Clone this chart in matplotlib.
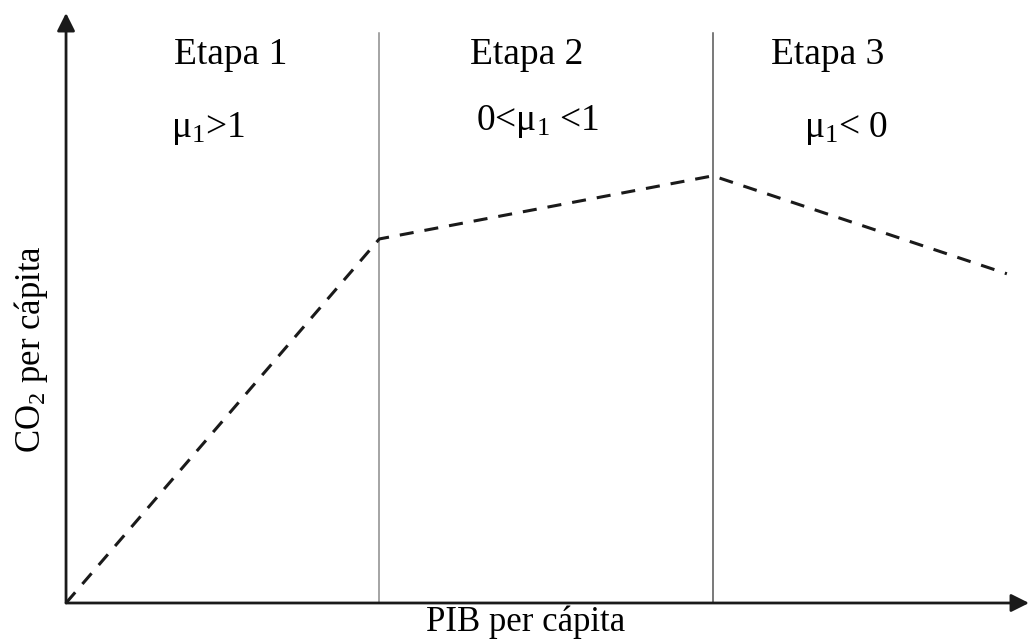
import numpy as np
import matplotlib
matplotlib.use('Agg')
import matplotlib.pyplot as plt

plt.rcParams['font.family'] = ['Liberation Serif', 'DejaVu Serif']
plt.rcParams['mathtext.fontset'] = 'custom'
plt.rcParams['mathtext.rm'] = 'Liberation Serif'
plt.rcParams['mathtext.it'] = 'Liberation Serif'

# curva EKC (unidades arbitrarias)
pib = [0.0, 3.25, 6.71, 9.76]
co2 = [0.0, 6.17, 7.24, 5.58]

# limites de las etapas
limites = [3.25, 6.71]
lim_top = 9.66
lim_colores = ['#8c8c8c', '#555555']

etapas = ['Etapa 1', 'Etapa 2', 'Etapa 3']
etapa_x = [1.71, 4.78, 7.90]
condiciones = [r'μ$_\mathrm{1}$>1', r'0<μ$_\mathrm{1}$ <1', r'μ$_\mathrm{1}$< 0']
cond_x = [1.47, 4.89, 8.09]
cond_y = [8.04, 8.16, 8.04]

fig = plt.figure(figsize=(10.3, 6.43), dpi=100)
ax = fig.add_axes([0, 0, 1, 1])
ax.set_xlim(-0.685, 10.0)
ax.set_ylim(-0.678, 10.22)
ax.axis('off')

# ejes con flechas
ax.annotate('', xy=(9.99, 0), xytext=(0, 0),
            arrowprops=dict(arrowstyle='-|>', lw=2, color='#1a1a1a',
                            mutation_scale=27, shrinkA=0, shrinkB=0))
ax.annotate('', xy=(0, 10.0), xytext=(0, 0),
            arrowprops=dict(arrowstyle='-|>', lw=2, color='#1a1a1a',
                            mutation_scale=27, shrinkA=0, shrinkB=0))

for xl, c in zip(limites, lim_colores):
    ax.plot([xl, xl], [0, lim_top], color=c, lw=1.1)

ax.plot(pib, co2, color='#1a1a1a', lw=2.2, dashes=(4.6, 3.6))

for t, x in zip(etapas, etapa_x):
    ax.text(x, 9.3, t, fontsize=27, ha='center', va='center')
for t, x, y in zip(condiciones, cond_x, cond_y):
    ax.text(x, y, t, fontsize=27, ha='center', va='center')

ax.text(4.77, -0.32, 'PIB per cápita', fontsize=25, ha='center', va='center')
ax.text(-0.36, 4.3, r'CO$_\mathrm{2}$ per cápita', fontsize=25, ha='center',
        va='center', rotation=90)

fig.savefig('out.png', dpi=100)
